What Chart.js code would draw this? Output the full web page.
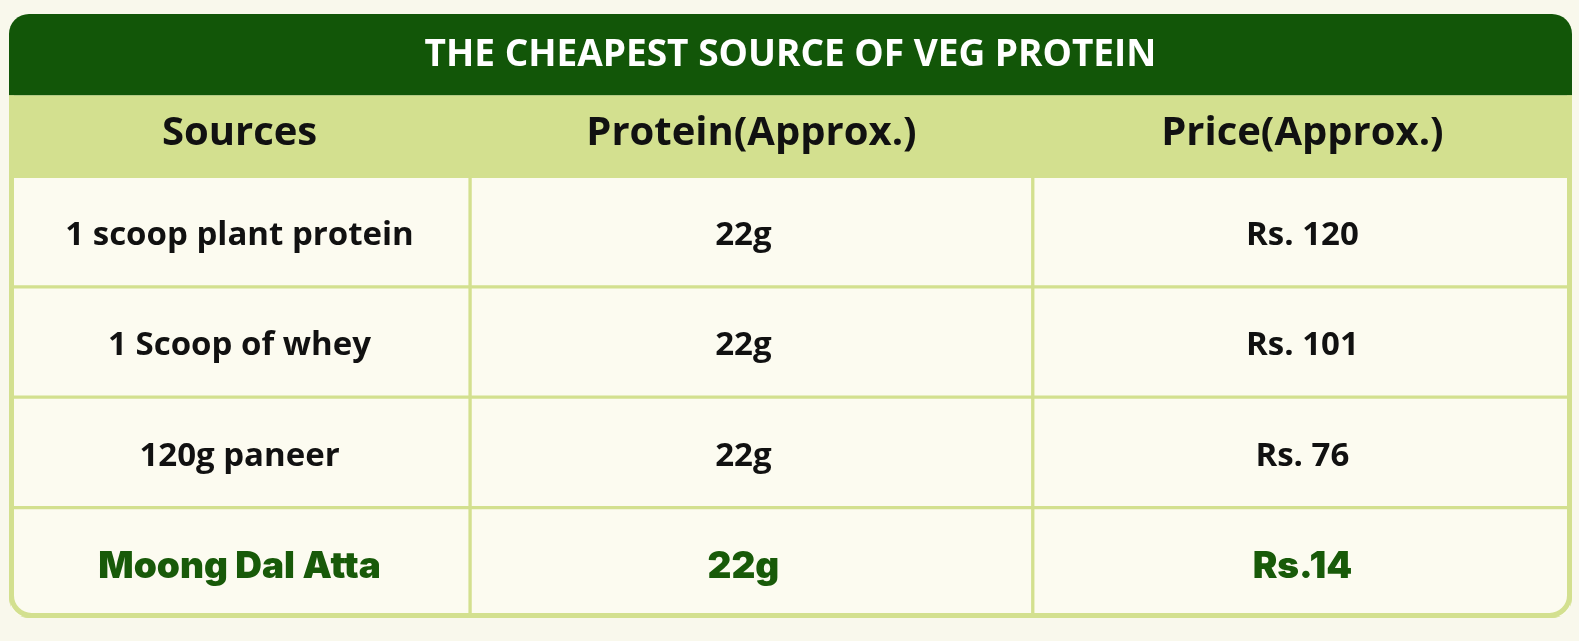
<!DOCTYPE html>
<html>
<head>
<meta charset="utf-8">
<title>The Cheapest Source of Veg Protein</title>
<script src="https://cdn.jsdelivr.net/npm/chart.js@4.4.1/dist/chart.umd.min.js"></script>
<style>
  html, body { margin: 0; padding: 0; background: #f9f8ec; }
  #wrap { width: 1579px; height: 641px; }
</style>
</head>
<body>
<div id="wrap"><canvas id="tableChart" width="1579" height="641"></canvas></div>
<script>
// Table content
const chartTitle = 'THE CHEAPEST SOURCE OF VEG PROTEIN';
const columns = ['Sources', 'Protein(Approx.)', 'Price(Approx.)'];
const sources = ['1 scoop plant protein', '1 Scoop of whey', '120g paneer', 'Moong Dal Atta'];
const protein = ['22g', '22g', '22g', '22g'];
const price = ['Rs. 120', 'Rs. 101', 'Rs. 76', 'Rs.14'];
const highlightRow = 3; // the cheapest one gets the green text

// Layout + colours
const colShare = [0.295, 0.36, 0.345]; // share of table width per column
const headerHeight = 81;
const cornerRadius = 20;
const pageBg = '#f9f8ec';
const cellBg = '#fcfbf0';
const darkGreen = '#125608';
const lightGreen = '#d3e08f';
const textGreen = '#185a09';

// column centres on the 0..1 x scale
const colCenters = [];
let acc = 0;
colShare.forEach(s => { colCenters.push(acc + s / 2); acc += s; });

const cellText = [sources, protein, price];

// Draws the title bar, header band, cell text and outer frame
const tableFrame = {
  id: 'tableFrame',
  beforeDraw(chart) {
    const { ctx, chartArea, scales } = chart;
    const t = chart.titleBlock;
    const left = chartArea.left, right = chartArea.right;
    ctx.save();
    ctx.fillStyle = pageBg;
    ctx.fillRect(0, 0, chart.width, chart.height);

    // title bar with rounded top corners
    const top = t.top, bottom = t.bottom, r = cornerRadius;
    ctx.fillStyle = darkGreen;
    ctx.beginPath();
    ctx.moveTo(left, bottom);
    ctx.lineTo(left, top + r);
    ctx.arcTo(left, top, left + r, top, r);
    ctx.lineTo(right - r, top);
    ctx.arcTo(right, top, right, top + r, r);
    ctx.lineTo(right, bottom);
    ctx.closePath();
    ctx.fill();

    // header band
    ctx.fillStyle = lightGreen;
    ctx.fillRect(left, scales.x.top, right - left, scales.x.bottom - scales.x.top + 1);
    ctx.restore();
  },
  beforeDatasetsDraw(chart) {
    const { ctx, chartArea } = chart;
    const { left, right, top, bottom } = chartArea;
    const r = cornerRadius;
    ctx.save();
    ctx.beginPath();
    ctx.moveTo(left, top);
    ctx.lineTo(left, bottom - r);
    ctx.arcTo(left, bottom, left + r, bottom, r);
    ctx.lineTo(right - r, bottom);
    ctx.arcTo(right, bottom, right, bottom - r, r);
    ctx.lineTo(right, top);
    ctx.closePath();
    ctx.clip();
  },
  afterDatasetsDraw(chart) {
    const ctx = chart.ctx;
    ctx.restore();
    ctx.save();
    ctx.textAlign = 'center';
    ctx.textBaseline = 'middle';
    chart.data.datasets.forEach((ds, c) => {
      chart.getDatasetMeta(c).data.forEach((bar, r) => {
        const hi = r === highlightRow;
        ctx.font = hi ? '900 37px Inter' : '700 33px "Open Sans"';
        ctx.fillStyle = hi ? textGreen : '#111111';
        const shift = c === 1 ? -8 : 0; // middle column text sits a bit left
        ctx.fillText(cellText[c][r], (bar.x + bar.base) / 2 + shift, bar.y + 4);
      });
    });
    ctx.restore();
  },
  afterDraw(chart) {
    const { ctx, chartArea, scales } = chart;
    const bw = 5, r = cornerRadius;
    const l = chartArea.left + bw / 2, rt = chartArea.right - bw / 2;
    const b = chartArea.bottom - bw / 2, top = scales.x.top;
    ctx.save();
    ctx.strokeStyle = lightGreen;
    ctx.lineWidth = bw;
    ctx.beginPath();
    ctx.moveTo(l, top);
    ctx.lineTo(l, b - r);
    ctx.arcTo(l, b, l + r, b, r);
    ctx.lineTo(rt - r, b);
    ctx.arcTo(rt, b, rt, b - r, r);
    ctx.lineTo(rt, top);
    ctx.stroke();
    ctx.restore();
  }
};

const chart = new Chart(document.getElementById('tableChart'), {
  type: 'bar',
  data: {
    labels: sources,
    datasets: columns.map((name, c) => ({
      label: name,
      data: sources.map(() => colShare[c]),
      backgroundColor: cellBg,
      borderColor: lightGreen,
      borderWidth: 2,
      borderSkipped: false,
      barPercentage: 1,
      categoryPercentage: 1
    }))
  },
  options: {
    indexAxis: 'y',
    responsive: false,
    animation: false,
    events: [],
    layout: { padding: { left: 9, right: 7, top: 14, bottom: 23 } },
    plugins: {
      legend: { display: false },
      tooltip: { enabled: false },
      title: {
        display: true,
        text: chartTitle,
        color: '#ffffff',
        font: { family: 'Open Sans', weight: '700', size: 37, lineHeight: 1.2 },
        padding: { top: 19, bottom: 18 }
      }
    },
    scales: {
      x: {
        type: 'linear',
        position: 'top',
        stacked: true,
        min: 0,
        max: 1,
        grid: { display: false, drawTicks: false },
        border: { display: false },
        afterBuildTicks: s => { s.ticks = colCenters.map(v => ({ value: v })); },
        afterFit: s => { s.height = headerHeight; },
        ticks: {
          autoSkip: false,
          maxRotation: 0,
          padding: 19,
          color: '#111111',
          font: { family: 'Open Sans', weight: '700', size: 40 },
          callback: (v, i) => columns[i]
        }
      },
      y: {
        type: 'category',
        stacked: true,
        display: false
      }
    }
  },
  plugins: [tableFrame]
});
</script>
</body>
</html>
